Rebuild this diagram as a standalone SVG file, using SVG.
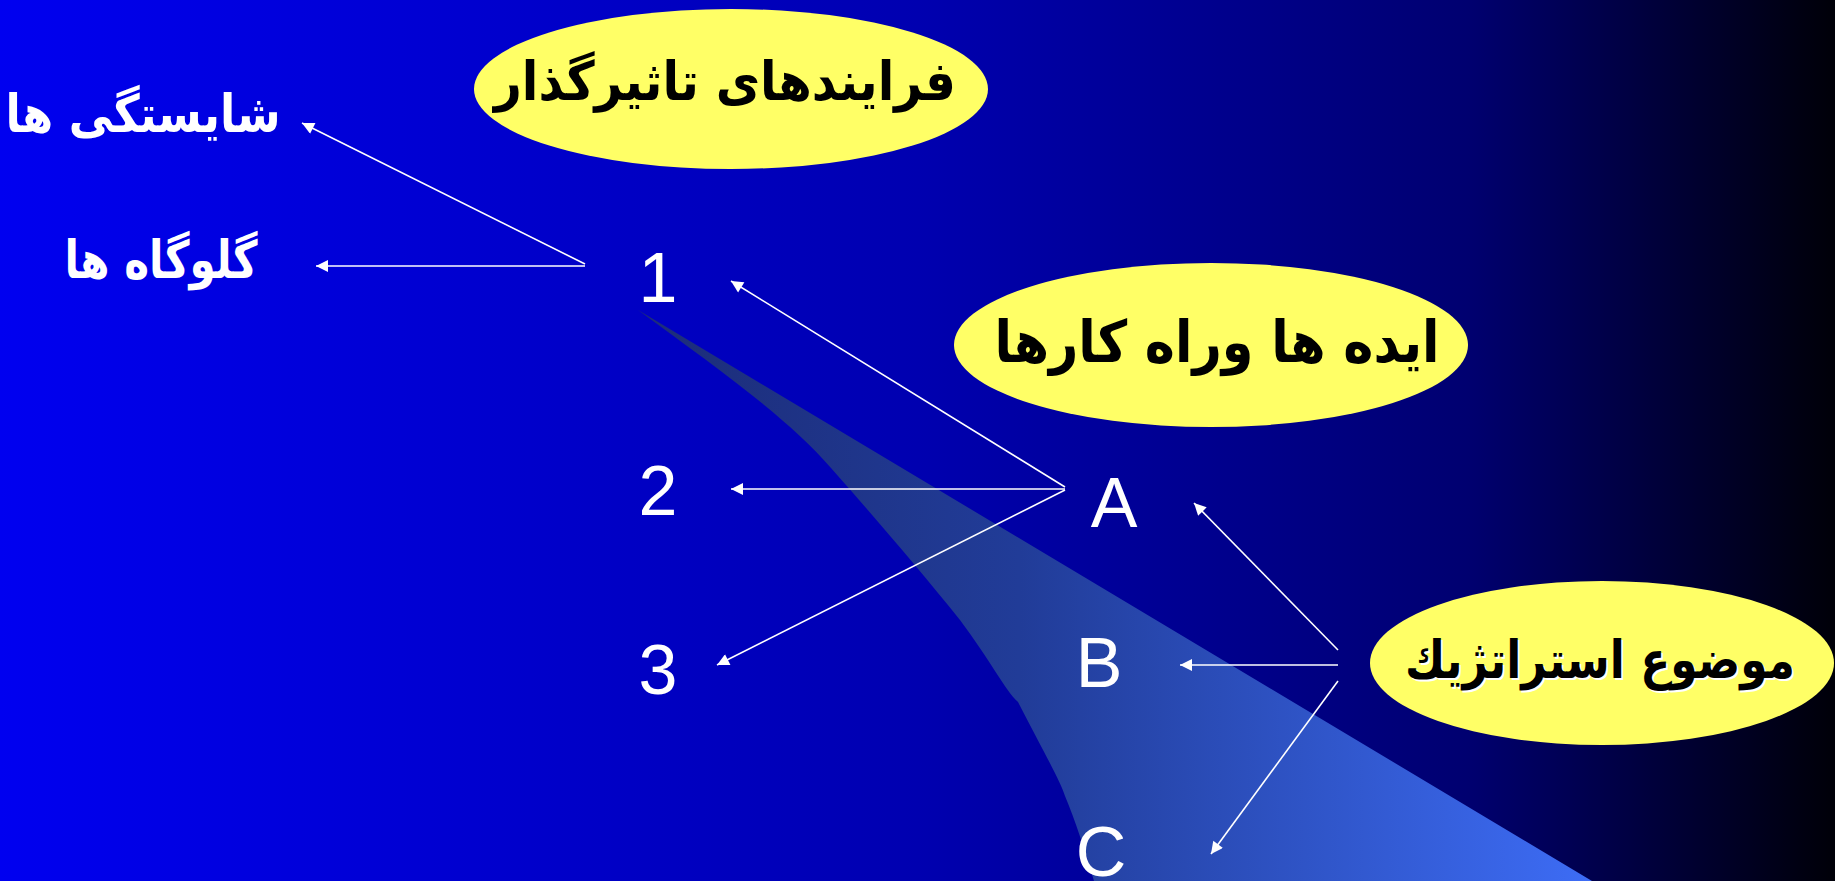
<svg xmlns="http://www.w3.org/2000/svg" width="1835" height="881" viewBox="0 0 1835 881">
<style>
.lbl{font-family:"DejaVu Sans",sans-serif;font-weight:bold;text-anchor:middle}
.w{fill:#ffffff}
.k{fill:#000000}
.num{font-family:"Liberation Sans",Arial,sans-serif;font-size:70px;fill:#ffffff;text-anchor:middle}
.conn{stroke:#ffffff;stroke-width:1.6;fill:none;marker-end:url(#ah)}
.bub{fill:#ffff66}
</style>
<defs>
<linearGradient id="bg" x1="0" y1="0" x2="1835" y2="0" gradientUnits="userSpaceOnUse">
<stop offset="0" stop-color="#0000f0"/>
<stop offset="0.5" stop-color="#0000b0"/>
<stop offset="0.8" stop-color="#000070"/>
<stop offset="1" stop-color="#000008"/>
</linearGradient>
<linearGradient id="beam" x1="640" y1="0" x2="1590" y2="0" gradientUnits="userSpaceOnUse">
<stop offset="0" stop-color="#1c2c78"/>
<stop offset="0.4" stop-color="#213c98"/>
<stop offset="1" stop-color="#3d6cf5"/>
</linearGradient>
<marker id="ah" viewBox="0 0 10 10" refX="10" refY="5" markerWidth="14" markerHeight="12" markerUnits="userSpaceOnUse" orient="auto">
<path d="M0,0 L10,5 L0,10 z" fill="#ffffff"/>
</marker>
</defs>
<rect x="0" y="0" width="1835" height="881" fill="url(#bg)"/>
<path d="M638,310 C720,370 790,420 831,468 C870,512 920,570 960,620 C990,660 1005,690 1018,702 C1040,745 1060,780 1065,796 C1075,820 1085,850 1094,881 L1592,881 Z" fill="url(#beam)"/>

<g id="connectors">
<line class="conn" x1="585" y1="264" x2="302" y2="123"/>
<line class="conn" x1="585" y1="266" x2="316" y2="266"/>
<line class="conn" x1="1065" y1="487" x2="731" y2="281"/>
<line class="conn" x1="1065" y1="489" x2="731" y2="489"/>
<line class="conn" x1="1065" y1="490" x2="717" y2="665"/>
<line class="conn" x1="1338" y1="650" x2="1194" y2="503"/>
<line class="conn" x1="1338" y1="665" x2="1180" y2="665"/>
<line class="conn" x1="1338" y1="681" x2="1211" y2="854"/>
</g>

<g id="n-processes">
<ellipse class="bub" cx="731" cy="89" rx="257" ry="80"/>
<text class="lbl k" x="725" y="100" font-size="54" textLength="462" lengthAdjust="spacingAndGlyphs">فرایندهای تاثیرگذار</text>
</g>
<g id="n-ideas">
<ellipse class="bub" cx="1211" cy="345" rx="257" ry="82"/>
<text class="lbl k" x="1217" y="362" font-size="58" textLength="445" lengthAdjust="spacingAndGlyphs">ایده ها وراه کارها</text>
</g>
<g id="n-topic">
<ellipse class="bub" cx="1602" cy="663" rx="232" ry="82"/>
<text class="lbl w" x="1602" y="680" font-size="52" textLength="390" lengthAdjust="spacingAndGlyphs">موضوع استراتژيك</text>
<text class="lbl k" x="1600" y="678" font-size="52" textLength="390" lengthAdjust="spacingAndGlyphs">موضوع استراتژيك</text>
</g>
<g id="n-competencies">
<text class="lbl w" x="143" y="132" font-size="52" textLength="275" lengthAdjust="spacingAndGlyphs">شایستگی ها</text>
</g>
<g id="n-bottlenecks">
<text class="lbl w" x="161" y="278" font-size="52" textLength="193" lengthAdjust="spacingAndGlyphs">گلوگاه ها</text>
</g>
<g id="n-1"><text class="num" x="658" y="302">1</text></g>
<g id="n-2"><text class="num" x="658" y="515">2</text></g>
<g id="n-3"><text class="num" x="658" y="694">3</text></g>
<g id="n-A"><text class="num" x="1114" y="527">A</text></g>
<g id="n-B"><text class="num" x="1099" y="687">B</text></g>
<g id="n-C"><text class="num" x="1101" y="876">C</text></g>
</svg>
